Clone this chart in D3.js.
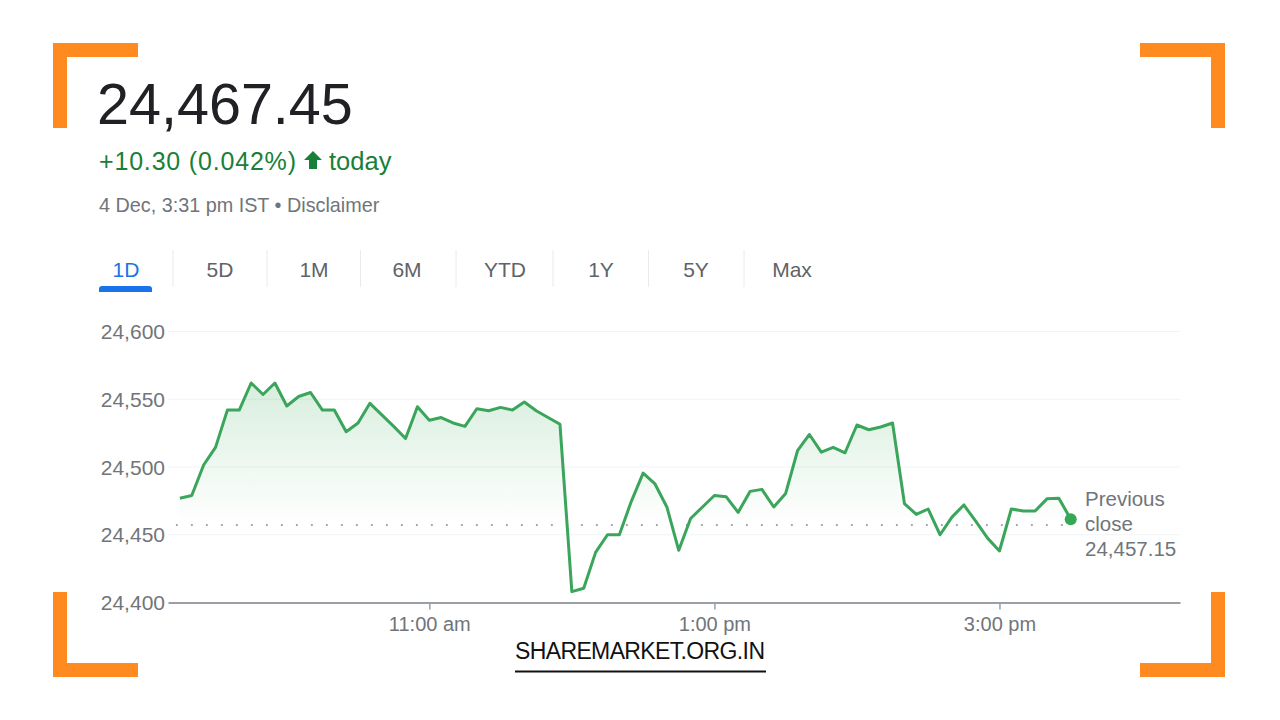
<!DOCTYPE html>
<html>
<head>
<meta charset="utf-8">
<title>NIFTY 50 intraday</title>
<script src="https://d3js.org/d3.v7.min.js"></script>
<style>
  body { margin: 0; background: #fff; }
  svg text { font-family: Arial, "Liberation Sans", sans-serif; }
</style>
</head>
<body>
<script>
// intraday prices, one every 5 minutes from 9:15 to 15:30
var prices = [
  24477, 24479, 24501.5, 24514.5, 24542, 24542, 24562, 24553.5, 24562, 24545,
  24552, 24555, 24542, 24542, 24526, 24532.5, 24547, 24538.5, 24530, 24521,
  24544.5, 24534.5, 24536.5, 24532.5, 24530, 24543, 24541.5, 24544, 24542, 24548,
  24541.5, 24536.5, 24531.5, 24408, 24410.5, 24437, 24450, 24450, 24474.5, 24495.5,
  24487.5, 24470.5, 24438.5, 24462, 24470.5, 24479, 24478, 24466.5, 24482, 24483.5,
  24470.5, 24480.5, 24512, 24524, 24511, 24514.5, 24510.5, 24531, 24527.5, 24529.5,
  24532.5, 24473, 24465, 24469, 24450, 24463, 24472, 24460, 24447.5, 24438,
  24469, 24467.5, 24467.5, 24476.5, 24477, 24461.5
];
var prevClose = 24457.15;
var yTicks = [24400, 24450, 24500, 24550, 24600];
var xTickTimes = ["11:00", "13:00", "15:00"];
var xTickLabels = ["11:00 am", "1:00 pm", "3:00 pm"];
var tabs = ["1D", "5D", "1M", "6M", "YTD", "1Y", "5Y", "Max"];

var W = 1280, H = 720;
var parseT = d3.timeParse("%H:%M");
var start = parseT("09:15");
var data = prices.map(function(p, i) {
  return { t: d3.timeMinute.offset(start, i * 5), v: p };
});

var svg = d3.select("body").append("svg")
  .attr("width", W).attr("height", H);

// orange corner brackets
var orange = "#ff8a1f";
function bracket(x, y, sx, sy) {
  var len = 85, th = 14;
  svg.append("rect").attr("x", sx > 0 ? x : x - len).attr("y", sy > 0 ? y : y - th)
    .attr("width", len).attr("height", th).attr("fill", orange);
  svg.append("rect").attr("x", sx > 0 ? x : x - th).attr("y", sy > 0 ? y : y - len)
    .attr("width", th).attr("height", len).attr("fill", orange);
}
bracket(53, 43, 1, 1);
bracket(1225, 43, -1, 1);
bracket(53, 677, 1, -1);
bracket(1225, 677, -1, -1);

// header
svg.append("text").attr("x", 97).attr("y", 124)
  .attr("font-size", 57.5).attr("fill", "#202124").text("24,467.45");

svg.append("text").attr("x", 99).attr("y", 170)
  .attr("font-size", 25).attr("fill", "#188038")
  .attr("textLength", 197).text("+10.30 (0.042%)");
svg.append("path")
  .attr("d", "M313,151 L322,160 L317,160 L317,169 L309,169 L309,160 L304,160 Z")
  .attr("fill", "#188038");
svg.append("text").attr("x", 329).attr("y", 170)
  .attr("font-size", 25.5).attr("fill", "#188038").text("today");

svg.append("text").attr("x", 99).attr("y", 212)
  .attr("font-size", 19.8).attr("fill", "#70757a").text("4 Dec, 3:31 pm IST \u2022 Disclaimer");

// range tabs
var tabCenters = [126, 220, 314, 407, 505, 601, 696, 792];
tabs.forEach(function(t, i) {
  svg.append("text").attr("x", tabCenters[i]).attr("y", 277)
    .attr("text-anchor", "middle").attr("font-size", 21)
    .attr("fill", i === 0 ? "#1a73e8" : "#5f6368").text(t);
  if (i > 0) {
    var sx = (tabCenters[i - 1] + tabCenters[i]) / 2;
    svg.append("line").attr("x1", sx).attr("x2", sx).attr("y1", 250).attr("y2", 287)
      .attr("stroke", "#e8eaed").attr("stroke-width", 1);
  }
});
svg.append("path").attr("d", "M99,292 L99,289 Q99,286 102,286 L149,286 Q152,286 152,289 L152,292 Z")
  .attr("fill", "#1a73e8");

// chart
var x = d3.scaleTime()
  .domain([d3.timeMinute.offset(start, -4.5), d3.timeMinute.offset(start, 421.5)])
  .range([168, 1180]);
var y = d3.scaleLinear().domain([24400, 24600]).range([602.5, 331.5]);

var defs = svg.append("defs");
var grad = defs.append("linearGradient").attr("id", "fillGrad")
  .attr("gradientUnits", "userSpaceOnUse")
  .attr("x1", 0).attr("x2", 0).attr("y1", y(24565)).attr("y2", y(prevClose));
grad.append("stop").attr("offset", 0).attr("stop-color", "#34a853").attr("stop-opacity", 0.2);
grad.append("stop").attr("offset", 1).attr("stop-color", "#34a853").attr("stop-opacity", 0);

// grid
svg.append("g").selectAll("line").data(yTicks.slice(1)).enter().append("line")
  .attr("x1", 168).attr("x2", 1180)
  .attr("y1", function(d) { return y(d); }).attr("y2", function(d) { return y(d); })
  .attr("stroke", "#f1f3f4").attr("stroke-width", 1);

// y labels
svg.append("g").selectAll("text").data(yTicks).enter().append("text")
  .attr("x", 165).attr("y", function(d) { return y(d); }).attr("dy", "0.36em")
  .attr("text-anchor", "end").attr("font-size", 21).attr("fill", "#70757a")
  .text(d3.format(","));

// area + line
svg.append("path").datum(data)
  .attr("d", d3.area().x(function(d) { return x(d.t); })
    .y0(y(prevClose)).y1(function(d) { return y(d.v); }))
  .attr("fill", "url(#fillGrad)");

// previous close dotted line
svg.append("line").attr("x1", x(start) - 3).attr("x2", x(data[data.length - 1].t))
  .attr("y1", y(prevClose)).attr("y2", y(prevClose))
  .attr("stroke", "#9aa0a6").attr("stroke-width", 2.2)
  .attr("stroke-dasharray", "0,15").attr("stroke-linecap", "round");

svg.append("path").datum(data)
  .attr("d", d3.line().x(function(d) { return x(d.t); }).y(function(d) { return y(d.v); }))
  .attr("fill", "none").attr("stroke", "#3aa55b").attr("stroke-width", 3)
  .attr("stroke-linejoin", "round");

var last = data[data.length - 1];
svg.append("circle").attr("cx", x(last.t)).attr("cy", y(last.v)).attr("r", 6)
  .attr("fill", "#34a853");

// x axis
var xAxis = d3.axisBottom(x)
  .tickValues(xTickTimes.map(parseT))
  .tickFormat(function(d, i) { return xTickLabels[i]; })
  .tickSizeInner(7).tickSizeOuter(0).tickPadding(7);
var gx = svg.append("g").attr("transform", "translate(0," + y(24400) + ")").call(xAxis);
gx.select(".domain").attr("stroke", "#9aa0a6").attr("stroke-width", 2);
gx.selectAll(".tick line").attr("stroke", "#9aa0a6").attr("stroke-width", 1.5);
gx.selectAll(".tick text").attr("font-size", 20).attr("fill", "#70757a")
  .attr("font-family", "Arial, 'Liberation Sans', sans-serif");

// previous close label
var pc = svg.append("text").attr("x", 1085).attr("font-size", 20.5).attr("fill", "#70757a");
["Previous", "close", d3.format(",.2f")(prevClose)].forEach(function(s, i) {
  pc.append("tspan").attr("x", 1085).attr("y", 506 + i * 25).text(s);
});

// watermark
svg.append("text").attr("x", 515).attr("y", 659).attr("font-size", 23)
  .attr("font-family", "Inter, 'Open Sans', sans-serif").attr("fill", "#111")
  .attr("textLength", 250).text("SHAREMARKET.ORG.IN");
svg.append("line").attr("x1", 515).attr("x2", 766).attr("y1", 671.5).attr("y2", 671.5)
  .attr("stroke", "#111").attr("stroke-width", 2);
</script>
</body>
</html>
